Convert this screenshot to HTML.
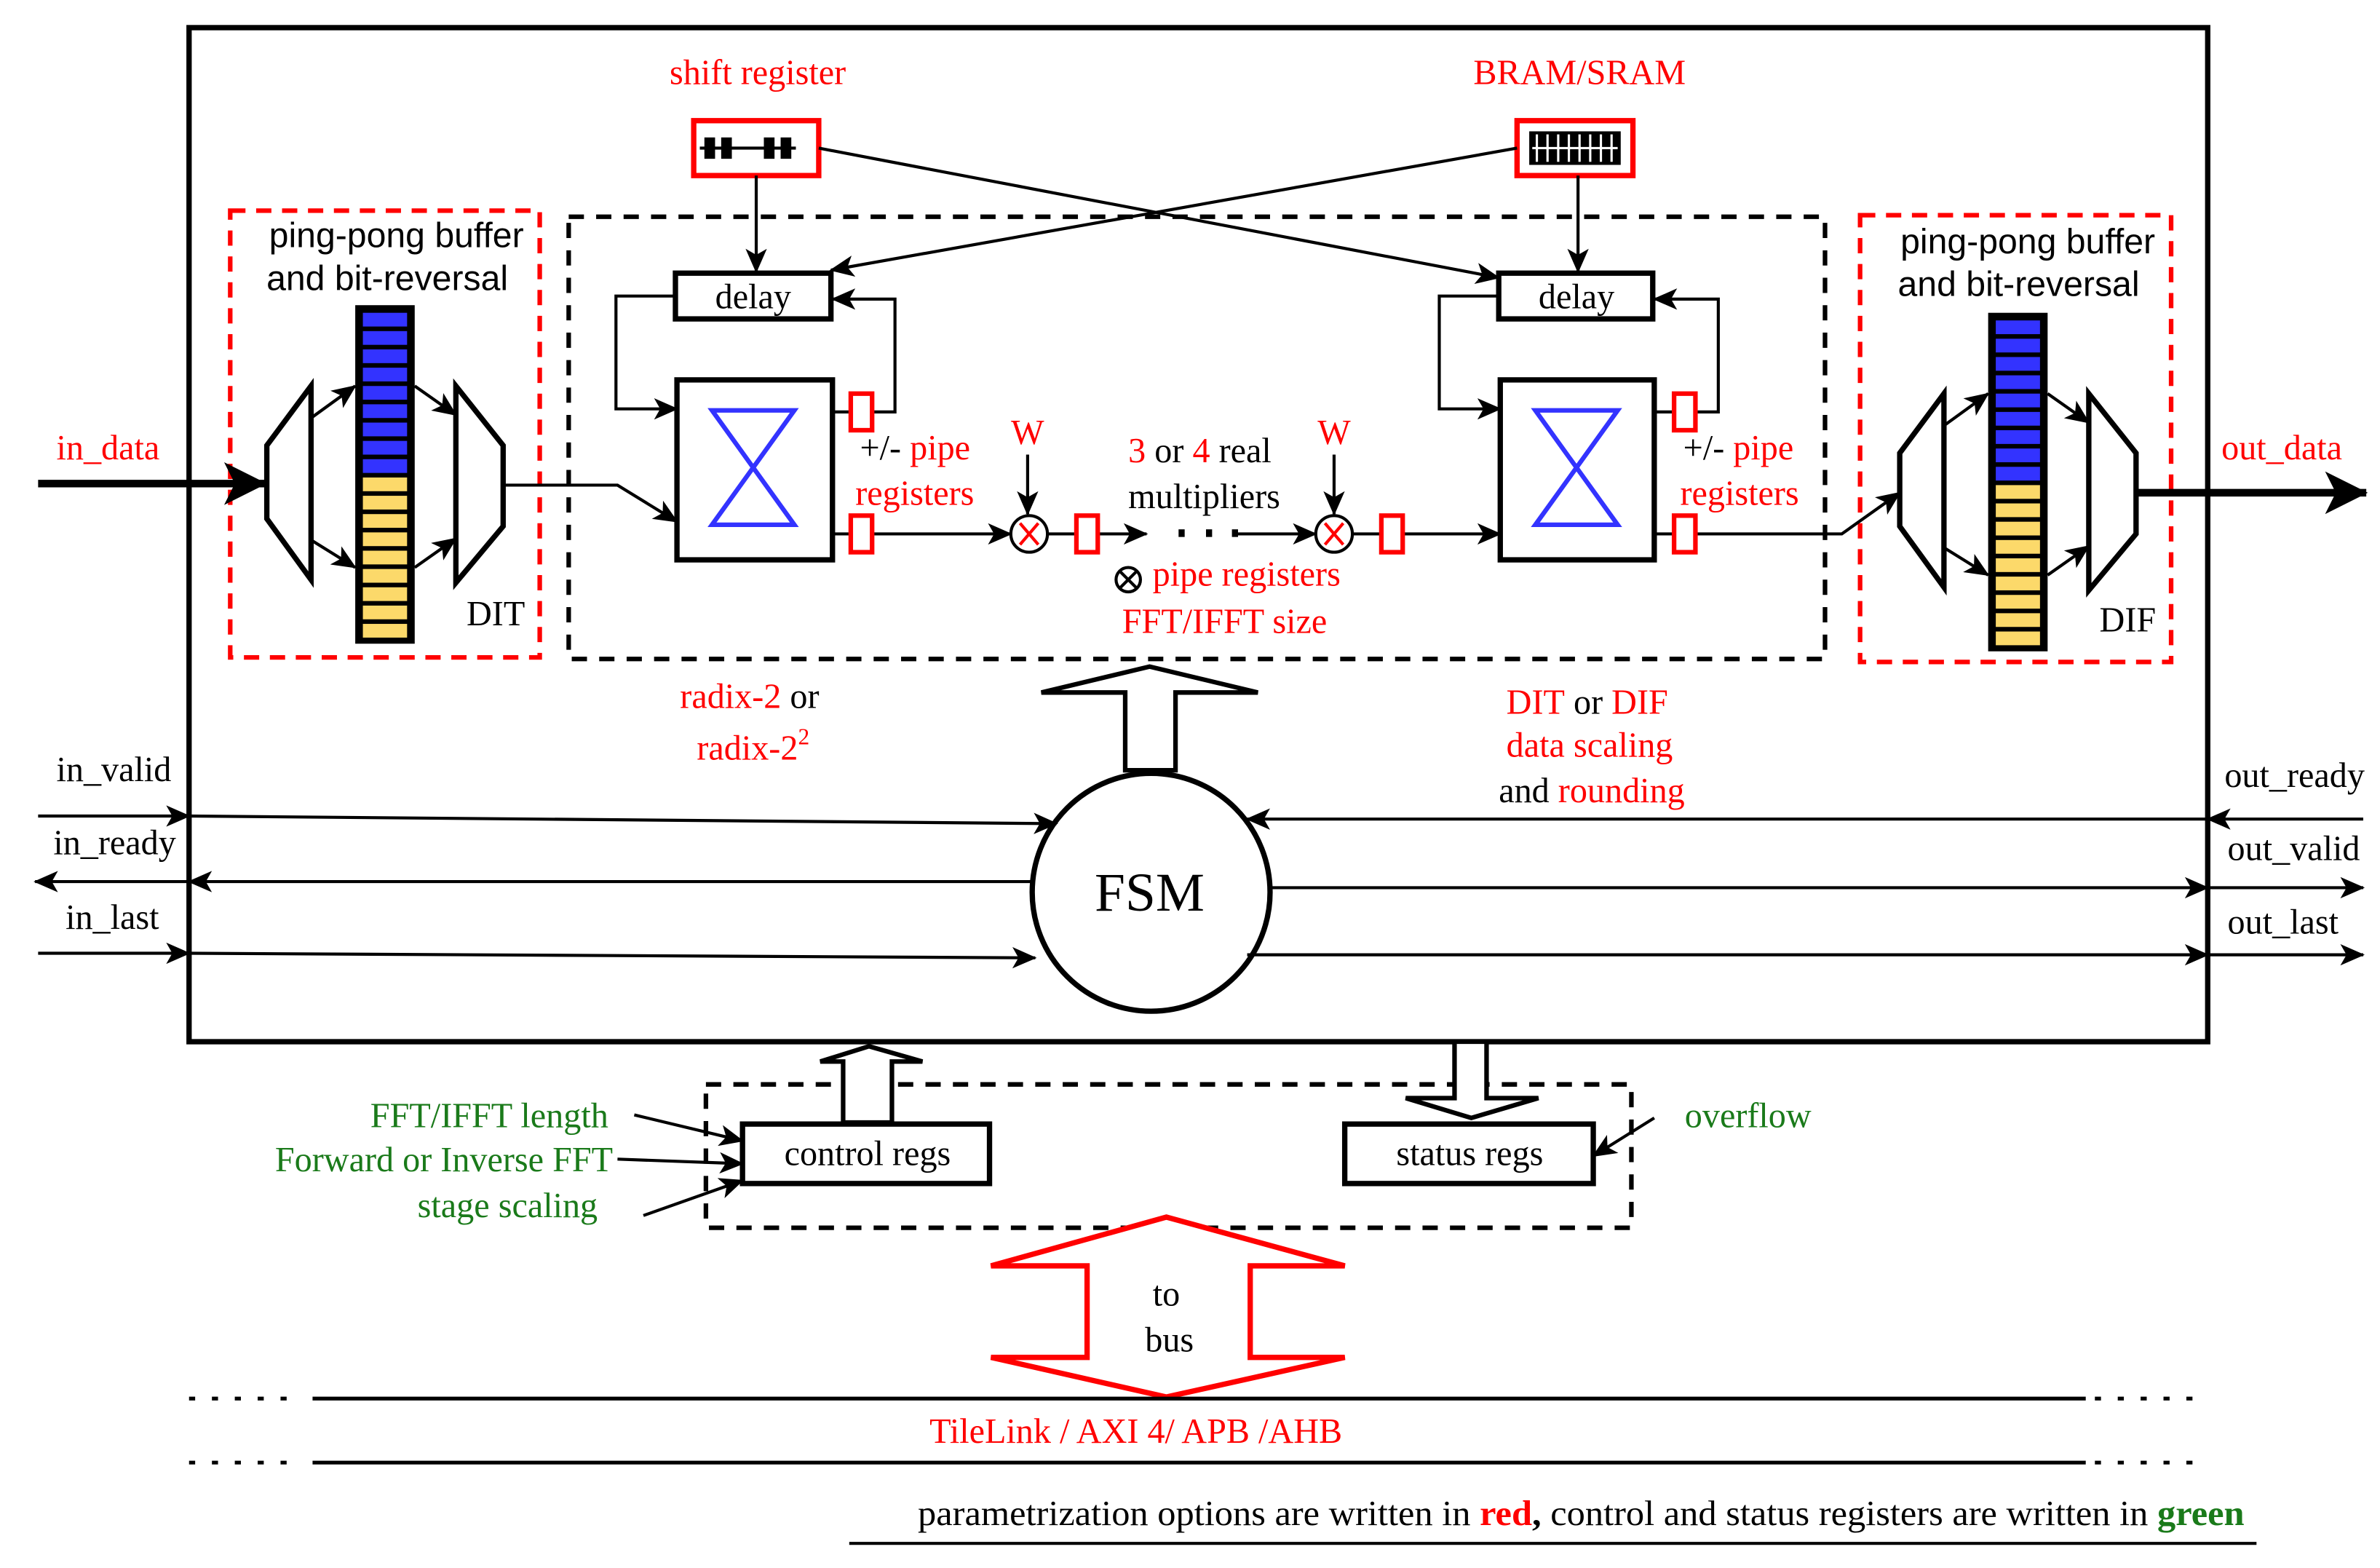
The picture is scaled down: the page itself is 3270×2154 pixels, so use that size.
<!DOCTYPE html>
<html><head><meta charset="utf-8"><style>
html,body{margin:0;padding:0;background:#fff;}
svg{display:block;}
text{font-family:"Liberation Serif",serif;}
.s{font-family:"Liberation Sans",sans-serif;}
</style></head><body>
<svg width="3270" height="2154" viewBox="0 0 1561 1028" xmlns="http://www.w3.org/2000/svg">
<defs>
<marker id="a" markerWidth="16" markerHeight="14" refX="15" refY="7" orient="auto" markerUnits="userSpaceOnUse" viewBox="0 0 16 14">
<path d="M0,0 L16,7 L0,14 L4,7 z" fill="#000"/></marker>
<marker id="A" markerWidth="28" markerHeight="28" refX="27" refY="14" orient="auto" markerUnits="userSpaceOnUse" viewBox="0 0 28 28">
<path d="M0,0 L28,14 L0,28 L7,14 z" fill="#000"/></marker>
</defs>
<rect x="0" y="0" width="1561" height="1028" fill="#fff"/>
<rect x="124" y="18" width="1324" height="665" fill="none" stroke="#000" stroke-width="3.5"/>
<rect x="151" y="138" width="203" height="293" fill="none" stroke="#f00" stroke-width="3" stroke-dasharray="10,7"/>
<rect x="1220" y="141" width="204" height="293" fill="none" stroke="#f00" stroke-width="3" stroke-dasharray="10,7"/>
<rect x="373" y="142" width="824" height="290" fill="none" stroke="#000" stroke-width="3" stroke-dasharray="10,8"/>
<text class="s" x="260" y="162" font-size="23" text-anchor="middle">ping-pong buffer</text>
<text class="s" x="254" y="190" font-size="23" text-anchor="middle">and bit-reversal</text>
<text class="s" x="1330" y="166" font-size="23" text-anchor="middle">ping-pong buffer</text>
<text class="s" x="1324" y="194" font-size="23" text-anchor="middle">and bit-reversal</text>
<g id="memL">
<rect x="233" y="200" width="39" height="222" fill="#000"/>
<g fill="#33f">
<rect x="238" y="205" width="29" height="9"/><rect x="238" y="217" width="29" height="9"/><rect x="238" y="229" width="29" height="9"/><rect x="238" y="241" width="29" height="9"/><rect x="238" y="253" width="29" height="9"/><rect x="238" y="265" width="29" height="9"/><rect x="238" y="277" width="29" height="9"/><rect x="238" y="289" width="29" height="9"/><rect x="238" y="301" width="29" height="9"/>
</g>
<g fill="#fcd96a">
<rect x="238" y="313" width="29" height="9"/><rect x="238" y="325" width="29" height="9"/><rect x="238" y="337" width="29" height="9"/><rect x="238" y="349" width="29" height="9"/><rect x="238" y="361" width="29" height="9"/><rect x="238" y="373" width="29" height="9"/><rect x="238" y="385" width="29" height="9"/><rect x="238" y="397" width="29" height="9"/><rect x="238" y="409" width="29" height="9"/>
</g>
</g>
<use href="#memL" transform="translate(1071,5)"/>
<g fill="#fff" stroke="#000" stroke-width="3.5">
<polygon points="175,292 204,253 204,380 175,340"/>
<polygon points="299,253 330,292 330,345 299,382"/>
<polygon points="1246,297 1275,258 1275,385 1246,345"/>
<polygon points="1370,258 1401,297 1401,350 1370,387"/>
</g>
<g stroke="#000" stroke-width="2" fill="none" marker-end="url(#a)">
<line x1="204" y1="274" x2="233" y2="253"/>
<line x1="204" y1="354" x2="233" y2="372"/>
<line x1="272" y1="253" x2="299" y2="272"/>
<line x1="272" y1="372" x2="299" y2="353"/>
<line x1="1275" y1="279" x2="1304" y2="258"/>
<line x1="1275" y1="359" x2="1304" y2="377"/>
<line x1="1343" y1="258" x2="1370" y2="277"/>
<line x1="1343" y1="377" x2="1370" y2="358"/>
</g>
<text x="306" y="410" font-size="23">DIT</text>
<text x="1377" y="414" font-size="23">DIF</text>
<line x1="25" y1="317" x2="174" y2="317" stroke="#000" stroke-width="5" marker-end="url(#A)"/>
<line x1="1401" y1="323" x2="1552" y2="323" stroke="#000" stroke-width="5" marker-end="url(#A)"/>
<text x="37" y="301" font-size="23" fill="#f00">in_data</text>
<text x="1457" y="301" font-size="23" fill="#f00">out_data</text>
<text x="497" y="55" font-size="23" fill="#f00" text-anchor="middle">shift register</text>
<text x="1036" y="55" font-size="23" fill="#f00" text-anchor="middle">BRAM/SRAM</text>
<rect x="455" y="79" width="82" height="36" fill="#fff" stroke="#f00" stroke-width="3.5"/>
<g fill="#000"><rect x="462" y="90" width="7" height="14"/><rect x="473" y="90" width="7" height="14"/><rect x="501" y="90" width="7" height="14"/><rect x="512" y="90" width="7" height="14"/>
<rect x="459" y="96" width="63" height="2"/></g>
<rect x="995" y="79" width="76" height="36" fill="#fff" stroke="#f00" stroke-width="3.5"/>
<rect x="1003" y="86" width="60" height="22" fill="#000"/>
<g stroke="#fff" stroke-width="1.5"><line x1="1008" y1="88" x2="1008" y2="106"/><line x1="1015" y1="88" x2="1015" y2="106"/><line x1="1022" y1="88" x2="1022" y2="106"/><line x1="1029" y1="88" x2="1029" y2="106"/><line x1="1036" y1="88" x2="1036" y2="106"/><line x1="1043" y1="88" x2="1043" y2="106"/><line x1="1050" y1="88" x2="1050" y2="106"/><line x1="1057" y1="88" x2="1057" y2="106"/><line x1="1005" y1="97" x2="1061" y2="97"/></g>
<g stroke="#000" stroke-width="2" fill="none" marker-end="url(#a)">
<line x1="496" y1="115" x2="496" y2="178"/>
<line x1="1035" y1="115" x2="1035" y2="178"/>
<line x1="537" y1="97" x2="983" y2="182"/>
<line x1="995" y1="97" x2="545" y2="177"/>
</g>
<g fill="#fff" stroke="#000" stroke-width="3.5">
<rect x="443" y="179" width="102" height="30"/>
<rect x="983" y="179" width="101" height="30"/>
<rect x="444" y="249" width="102" height="118"/>
<rect x="984" y="249" width="101" height="118"/>
</g>
<text x="494" y="202" font-size="23" text-anchor="middle">delay</text>
<text x="1034" y="202" font-size="23" text-anchor="middle">delay</text>
<g fill="none" stroke="#33f" stroke-width="3">
<polygon points="467,269 521,269 467,344 521,344"/>
<polygon points="1007,269 1061,269 1007,344 1061,344"/>
</g>
<g stroke="#000" stroke-width="2" fill="none" marker-end="url(#a)">
<polyline points="443,194 404,194 404,268 444,268"/>
<polyline points="573,270 587,270 587,196 546,196"/>
<polyline points="983,194 944,194 944,268 984,268"/>
<polyline points="1113,270 1127,270 1127,196 1085,196"/>
<polyline points="330,318 405,318 444,342"/>
<line x1="573" y1="350" x2="663" y2="350"/>
<line x1="721" y1="350" x2="752" y2="350"/>
<line x1="811" y1="350" x2="863" y2="350"/>
<line x1="921" y1="350" x2="984" y2="350"/>
<polyline points="1113,350 1208,350 1246,323"/>
<line x1="674" y1="298" x2="674" y2="337"/>
<line x1="875" y1="298" x2="875" y2="337"/>
</g>
<line x1="546" y1="270" x2="557" y2="270" stroke="#000" stroke-width="2"/>
<line x1="546" y1="350" x2="557" y2="350" stroke="#000" stroke-width="2"/>
<line x1="1085" y1="270" x2="1097" y2="270" stroke="#000" stroke-width="2"/>
<line x1="1085" y1="350" x2="1097" y2="350" stroke="#000" stroke-width="2"/>
<line x1="687" y1="350" x2="705" y2="350" stroke="#000" stroke-width="2"/>
<line x1="887" y1="350" x2="905" y2="350" stroke="#000" stroke-width="2"/>
<g fill="#000"><rect x="773" y="347" width="4" height="5"/><rect x="791" y="347" width="4" height="5"/><rect x="808" y="347" width="4" height="5"/></g>
<g fill="#fff" stroke="#f00" stroke-width="3">
<rect x="558" y="258" width="14" height="24"/><rect x="558" y="338" width="14" height="24"/>
<rect x="1098" y="258" width="14" height="24"/><rect x="1098" y="338" width="14" height="24"/>
<rect x="706" y="338" width="14" height="24"/><rect x="906" y="338" width="14" height="24"/>
</g>
<g fill="#fff" stroke="#000" stroke-width="2"><circle cx="675" cy="350" r="12"/><circle cx="875" cy="350" r="12"/></g>
<g stroke="#f00" stroke-width="2"><line x1="669" y1="343" x2="681" y2="357"/><line x1="681" y1="343" x2="669" y2="357"/><line x1="869" y1="343" x2="881" y2="357"/><line x1="881" y1="343" x2="869" y2="357"/></g>
<text x="674" y="291" font-size="23" fill="#f00" text-anchor="middle">W</text>
<text x="875" y="291" font-size="23" fill="#f00" text-anchor="middle">W</text>
<text x="564" y="301" font-size="23"><tspan>+/- </tspan><tspan fill="#f00">pipe</tspan></text>
<text x="561" y="331" font-size="23" fill="#f00">registers</text>
<text x="1104" y="301" font-size="23"><tspan>+/- </tspan><tspan fill="#f00">pipe</tspan></text>
<text x="1102" y="331" font-size="23" fill="#f00">registers</text>
<text x="740" y="303" font-size="23"><tspan fill="#f00">3</tspan> or <tspan fill="#f00">4</tspan> real</text>
<text x="740" y="333" font-size="23">multipliers</text>
<circle cx="740" cy="380" r="8" fill="#fff" stroke="#000" stroke-width="2"/>
<g stroke="#000" stroke-width="2"><line x1="735" y1="375" x2="745" y2="385"/><line x1="745" y1="375" x2="735" y2="385"/></g>
<text x="756" y="384" font-size="23" fill="#f00">pipe registers</text>
<text x="736" y="415" font-size="23" fill="#f00">FFT/IFFT size</text>
<text x="446" y="464" font-size="23"><tspan fill="#f00">radix-2</tspan> or</text>
<text x="457" y="498" font-size="23" fill="#f00">radix-2<tspan font-size="15" dy="-10">2</tspan></text>
<text x="988" y="468" font-size="23"><tspan fill="#f00">DIT</tspan> or <tspan fill="#f00">DIF</tspan></text>
<text x="988" y="496" font-size="23" fill="#f00">data scaling</text>
<text x="983" y="526" font-size="23">and <tspan fill="#f00">rounding</tspan></text>
<polygon points="738,505 738,454 683,454 754,437 825,454 771,454 771,505" fill="#fff" stroke="#000" stroke-width="3"/>
<circle cx="755" cy="585" r="78" fill="#fff" stroke="#000" stroke-width="3.5"/>
<text x="754" y="597" font-size="36" text-anchor="middle">FSM</text>
<g stroke="#000" stroke-width="2" fill="none" marker-end="url(#a)">
<line x1="25" y1="535" x2="124" y2="535"/>
<line x1="124" y1="535" x2="693" y2="540"/>
<line x1="677" y1="578" x2="124" y2="578"/>
<line x1="124" y1="578" x2="23" y2="578"/>
<line x1="25" y1="625" x2="124" y2="625"/>
<line x1="124" y1="625" x2="679" y2="628"/>
<line x1="1550" y1="537" x2="1448" y2="537"/>
<line x1="1448" y1="537" x2="818" y2="537"/>
<line x1="833" y1="582" x2="1448" y2="582"/>
<line x1="1448" y1="582" x2="1550" y2="582"/>
<line x1="818" y1="626" x2="1448" y2="626"/>
<line x1="1448" y1="626" x2="1550" y2="626"/>
</g>
<text x="37" y="512" font-size="23">in_valid</text>
<text x="35" y="560" font-size="23">in_ready</text>
<text x="43" y="609" font-size="23">in_last</text>
<text x="1459" y="516" font-size="23">out_ready</text>
<text x="1461" y="564" font-size="23">out_valid</text>
<text x="1461" y="612" font-size="23">out_last</text>
<rect x="463" y="711" width="607" height="94" fill="none" stroke="#000" stroke-width="3" stroke-dasharray="10,8"/>
<polygon points="553,736 553,696 538,696 570,686 605,696 585,696 585,736" fill="#fff" stroke="#000" stroke-width="3"/>
<polygon points="954,683 954,720 922,720 965,733 1009,720 975,720 975,683" fill="#fff" stroke="#000" stroke-width="3"/>
<rect x="487" y="737" width="162" height="39" fill="#fff" stroke="#000" stroke-width="3.5"/>
<rect x="882" y="737" width="163" height="39" fill="#fff" stroke="#000" stroke-width="3.5"/>
<text x="569" y="764" font-size="23" text-anchor="middle">control regs</text>
<text x="964" y="764" font-size="23" text-anchor="middle">status regs</text>
<text x="399" y="739" font-size="23" fill="#1a7a1a" text-anchor="end">FFT/IFFT length</text>
<text x="402" y="768" font-size="23" fill="#1a7a1a" text-anchor="end">Forward or Inverse FFT</text>
<text x="392" y="798" font-size="23" fill="#1a7a1a" text-anchor="end">stage scaling</text>
<text x="1105" y="739" font-size="23" fill="#1a7a1a">overflow</text>
<g stroke="#000" stroke-width="2" fill="none" marker-end="url(#a)">
<line x1="416" y1="731" x2="487" y2="748"/>
<line x1="405" y1="760" x2="487" y2="763"/>
<line x1="422" y1="797" x2="487" y2="774"/>
<line x1="1085" y1="733" x2="1045" y2="758"/>
</g>
<polygon points="765,798 882,830 820,830 820,890 882,890 765,916 650,890 713,890 713,830 650,830" fill="#fff" stroke="#f00" stroke-width="3.5"/>
<text x="765" y="856" font-size="23" text-anchor="middle">to</text>
<text x="767" y="886" font-size="23" text-anchor="middle">bus</text>
<g stroke="#000" stroke-width="2.5">
<line x1="124" y1="917" x2="195" y2="917" stroke-dasharray="4,11"/>
<line x1="124" y1="959" x2="195" y2="959" stroke-dasharray="4,11"/>
<line x1="1374" y1="917" x2="1448" y2="917" stroke-dasharray="4,11"/>
<line x1="1374" y1="959" x2="1448" y2="959" stroke-dasharray="4,11"/>
<line x1="205" y1="917" x2="1368" y2="917"/>
<line x1="205" y1="959" x2="1368" y2="959"/>
<line x1="557" y1="1012" x2="1480" y2="1012" stroke-width="2"/>
</g>
<text x="745" y="946" font-size="23" fill="#f00" text-anchor="middle">TileLink / AXI 4/ APB /AHB</text>
<text x="602" y="1000" font-size="23" textLength="870" lengthAdjust="spacingAndGlyphs">parametrization options are written in <tspan fill="#f00" font-weight="bold">red</tspan><tspan font-weight="bold">,</tspan> control and status registers are written in <tspan fill="#1a7a1a" font-weight="bold">green</tspan></text>
</svg>
</body></html>
